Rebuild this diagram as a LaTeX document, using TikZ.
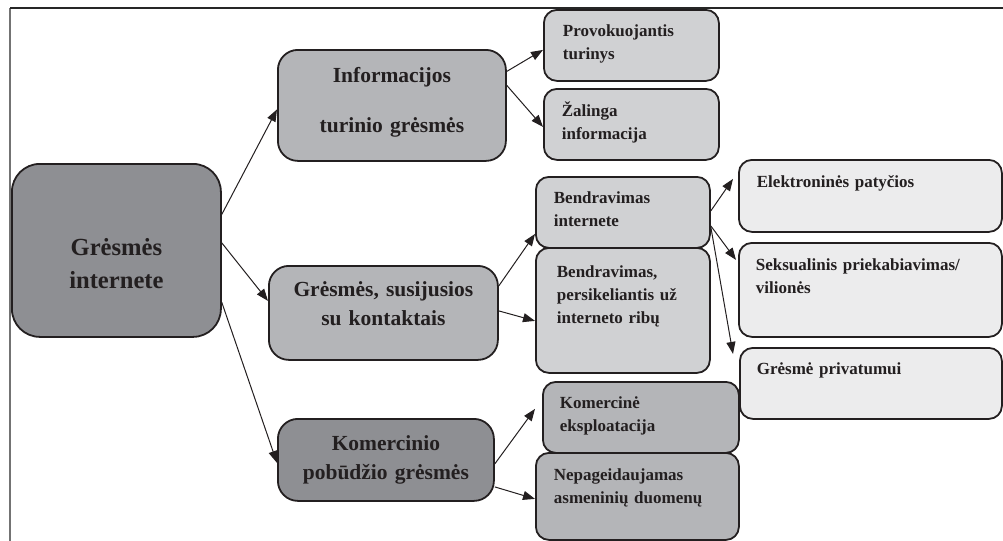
\documentclass[tikz,border=0pt]{standalone}
\usepackage{fontspec}
\setmainfont{Liberation Serif}
\usetikzlibrary{arrows.meta}
\definecolor{ink}{HTML}{231F20}
\definecolor{darkfill}{HTML}{8E8F93}
\definecolor{midfill}{HTML}{B4B5B8}
\definecolor{lightfill}{HTML}{D0D1D3}
\definecolor{palefill}{HTML}{ECECED}
\begin{document}
\begin{tikzpicture}[x=0.5pt,y=-0.5pt,
  box/.style={draw=ink,line width=0.9pt,text=ink,inner ysep=0pt,anchor=north west},
  rootbox/.style={box,fill=darkfill,rounded corners=14pt,inner xsep=0pt,align=center,
    font=\fontsize{12.3}{16.5}\selectfont\bfseries},
  threatbox/.style={box,rounded corners=10pt,inner xsep=0pt,align=center,
    font=\fontsize{10.75}{14.5}\selectfont\bfseries},
  subbox/.style={box,rounded corners=6.5pt,align=left,
    font=\fontsize{8.5}{11.5}\selectfont\bfseries},
  link/.style={draw=ink,line width=0.5pt,-{Triangle[length=6pt,width=4.5pt]}}]
\useasboundingbox (0,0) rectangle (1003,541);
\draw[black!55,line width=0.6pt] (10,541) -- (10,8);   % frame
\draw[black!85,line width=0.7pt] (10,8) -- (1003,8);
% main box
\node[rootbox,text width=104.5pt,text height=46pt,text depth=40.5pt] (root) at (11,163) {Grėsmės\\internete};
% threats
\node[threatbox,fill=midfill,text width=114pt,text height=16.5pt,text depth=39pt] (info) at (277,49) {Informacijos\\[10.5pt]turinio grėsmės};
\node[threatbox,fill=midfill,text width=114.5pt,text height=15.5pt,text depth=31.5pt] (kont) at (268,265) {Grėsmės, susijusios\\su kontaktais};
\node[threatbox,fill=darkfill,text width=108pt,text height=16pt,text depth=25pt] (kom) at (277,418) {Komercinio\\pobūdžio grėsmės};
% sub threats
\node[subbox,fill=lightfill,inner xsep=9.5pt,text width=68.5pt,text height=13.5pt,text depth=22pt] (prov) at (543,9) {Provokuojantis\\turinys};
\node[subbox,fill=lightfill,inner xsep=9pt,text width=69.5pt,text height=14pt,text depth=21.5pt] (zal) at (543,88) {Žalinga\\informacija};
\node[subbox,fill=lightfill,inner xsep=9pt,text width=69pt,text height=13.5pt,text depth=22pt] (bint) at (535,176) {Bendravimas\\internete};
\node[subbox,fill=lightfill,inner xsep=10.5pt,text width=66pt,text height=15pt,text depth=47.5pt] (bper) at (535,247) {Bendravimas,\\persikeliantis už\\interneto ribų};
\node[subbox,fill=palefill,inner xsep=9pt,text width=113.5pt,text height=14pt,text depth=22pt] (elek) at (738,159) {Elektroninės patyčios};
\node[subbox,fill=palefill,inner xsep=8.5pt,text width=114.5pt,text height=14pt,text depth=33pt] (seks) at (738,242) {Seksualinis priekabiavimas/\\vilionės};
\node[subbox,fill=palefill,inner xsep=8.5pt,text width=114pt,text height=13.5pt,text depth=22pt] (priv) at (739,347) {Grėsmė privatumui};
\node[subbox,fill=midfill,inner xsep=8.5pt,text width=81pt,text height=13.5pt,text depth=22pt] (kome) at (542,381) {Komercinė\\eksploatacija};
\node[subbox,fill=midfill,inner xsep=9pt,text width=83.5pt,text height=14pt,text depth=29.5pt] (nepa) at (535,452) {Nepageidaujamas\\asmeninių duomenų};
% arrows
\draw[link] ([yshift=18pt]root.east) -- ([yshift=-2pt]info.west);
\draw[link] ([yshift=3.75pt]root.east) -- ([yshift=6pt]kont.west);
\draw[link] ([yshift=-26pt]root.east) -- ([yshift=-1.5pt]kom.west);
\draw[link] ([yshift=17pt]info.east) -- ([yshift=-2.25pt]prov.west);
\draw[link] ([yshift=10pt]info.east) -- ([yshift=-1.25pt]zal.west);
\draw[link] ([yshift=13.5pt]kont.east) -- ([yshift=-10.75pt]bint.west);
\draw[link] ([yshift=1pt]kont.east) -- ([yshift=-5.25pt]bper.west);
\draw[link] ([yshift=0.75pt]bint.east) -- ([xshift=-2.5pt,yshift=8.5pt]elek.west);
\draw[link] ([yshift=-6.75pt]bint.east) -- ([xshift=-1pt,yshift=15pt]seks.west);
\draw[link] ([yshift=-7.25pt]bint.east) -- ([xshift=-3pt,yshift=14.75pt]priv.west);
\draw[link] ([yshift=-2pt]kom.east) -- ([xshift=-3.5pt,yshift=4.25pt]kome.west);
\draw[link] ([yshift=-13.5pt]kom.east) -- ([yshift=-1.25pt]nepa.west);
\end{tikzpicture}
\end{document}
